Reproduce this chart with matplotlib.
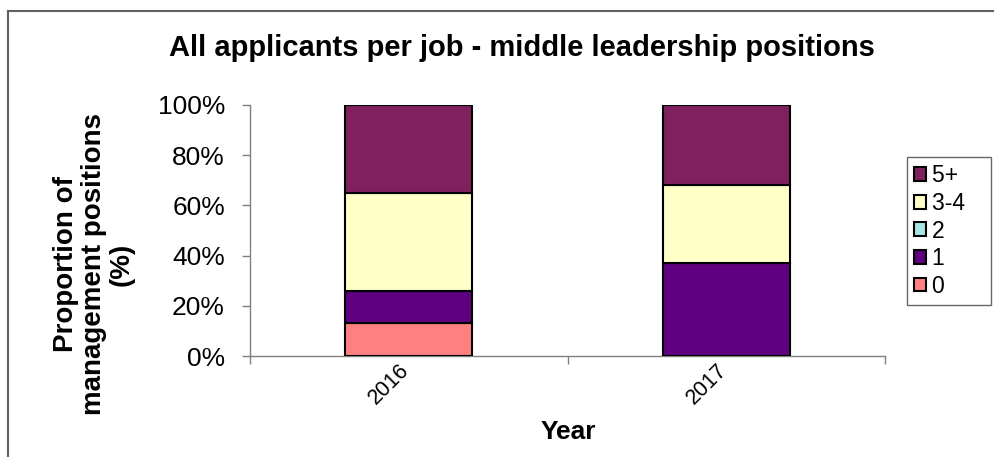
import numpy as np
import matplotlib
matplotlib.use('Agg')
import matplotlib.pyplot as plt
from matplotlib.lines import Line2D

plt.rcParams['font.family'] = ['Liberation Sans', 'DejaVu Sans']

# data (percent of positions)
years = ['2016', '2017']
groups = ['0', '1', '2', '3-4', '5+']
vals_0 = [13, 0]
vals_1 = [13, 37]
vals_2 = [0, 0]
vals_34 = [39, 31]
vals_5 = [35, 32]
colors = ['#FF8080', '#600080', '#A8E4E4', '#FFFFC8', '#80205F']

series = [vals_0, vals_1, vals_2, vals_34, vals_5]

fig = plt.figure(figsize=(9.94, 4.57), dpi=100)
ax = fig.add_axes([250/994, 1 - 356/457, 635/994, 251/457])

x = np.arange(len(years))
bottom = np.zeros(len(years))
handles = []
for name, v, c in zip(groups, series, colors):
    v = np.array(v, dtype=float)
    b = ax.bar(x, v, 0.4, bottom=bottom, color=c, edgecolor='black',
               linewidth=1.5, label=name, zorder=3)
    handles.append(b)
    bottom += v

ax.set_xlim(-0.5, 1.5)
ax.set_ylim(0, 100)
ax.set_yticks(np.arange(0, 101, 20))
ax.set_yticklabels(['{}%'.format(t) for t in range(0, 101, 20)], fontsize=19)
ax.tick_params(axis='y', length=6, width=1, color='#808080', pad=12)

# category ticks at boundaries, labels in the middle
ax.set_xticks([-0.5, 0.5, 1.5])
ax.set_xticklabels(['', '', ''])
ax.tick_params(axis='x', which='major', length=6, width=1, color='#808080')
ax.set_xticks(x, minor=True)
ax.set_xticklabels(years, minor=True, rotation=45, ha='right', fontsize=15.5)
ax.tick_params(axis='x', which='minor', length=0, pad=3)
offset = matplotlib.transforms.ScaledTranslation(5/100, 0, fig.dpi_scale_trans)
for lab in ax.get_xticklabels(minor=True):
    lab.set_transform(lab.get_transform() + offset)

for s in ['top', 'right']:
    ax.spines[s].set_visible(False)
for s in ['left', 'bottom']:
    ax.spines[s].set_color('#808080')
    ax.spines[s].set_linewidth(1)

fig.text(522/994, 1 - 48/457, 'All applicants per job - middle leadership positions',
         ha='center', va='center', fontsize=21, fontweight='bold')
fig.text(94/994, 1 - 264/457, 'Proportion of\nmanagement positions\n(%)',
         rotation=90, ha='center', va='center', multialignment='center',
         fontsize=20, fontweight='bold', linespacing=1.1)
fig.text(568/994, 1 - 432/457, 'Year', ha='center', va='center',
         fontsize=19, fontweight='bold')

# trailing spaces widen the box like the original legend
leg_labels = [g + '   ' for g in groups[::-1]]
leg = fig.legend(handles[::-1], leg_labels, loc='center left',
                 bbox_to_anchor=(907/994, 1 - 231/457), fontsize=16.5,
                 frameon=True, fancybox=False, edgecolor='#404040',
                 handlelength=0.55, handleheight=0.55, handletextpad=0.25,
                 labelspacing=0.2, borderpad=0.3, borderaxespad=0)
leg.get_frame().set_linewidth(1)
for h in leg.legend_handles:
    h.set_linewidth(1.5)

# outer chart border (cropped on right and bottom)
fig.add_artist(Line2D([8/994, 8/994], [0, 1 - 11/457], color='#606060', lw=1.5))
fig.add_artist(Line2D([8/994, 1], [1 - 11/457, 1 - 11/457], color='#606060', lw=1.5))

fig.savefig('out.png', dpi=100)
